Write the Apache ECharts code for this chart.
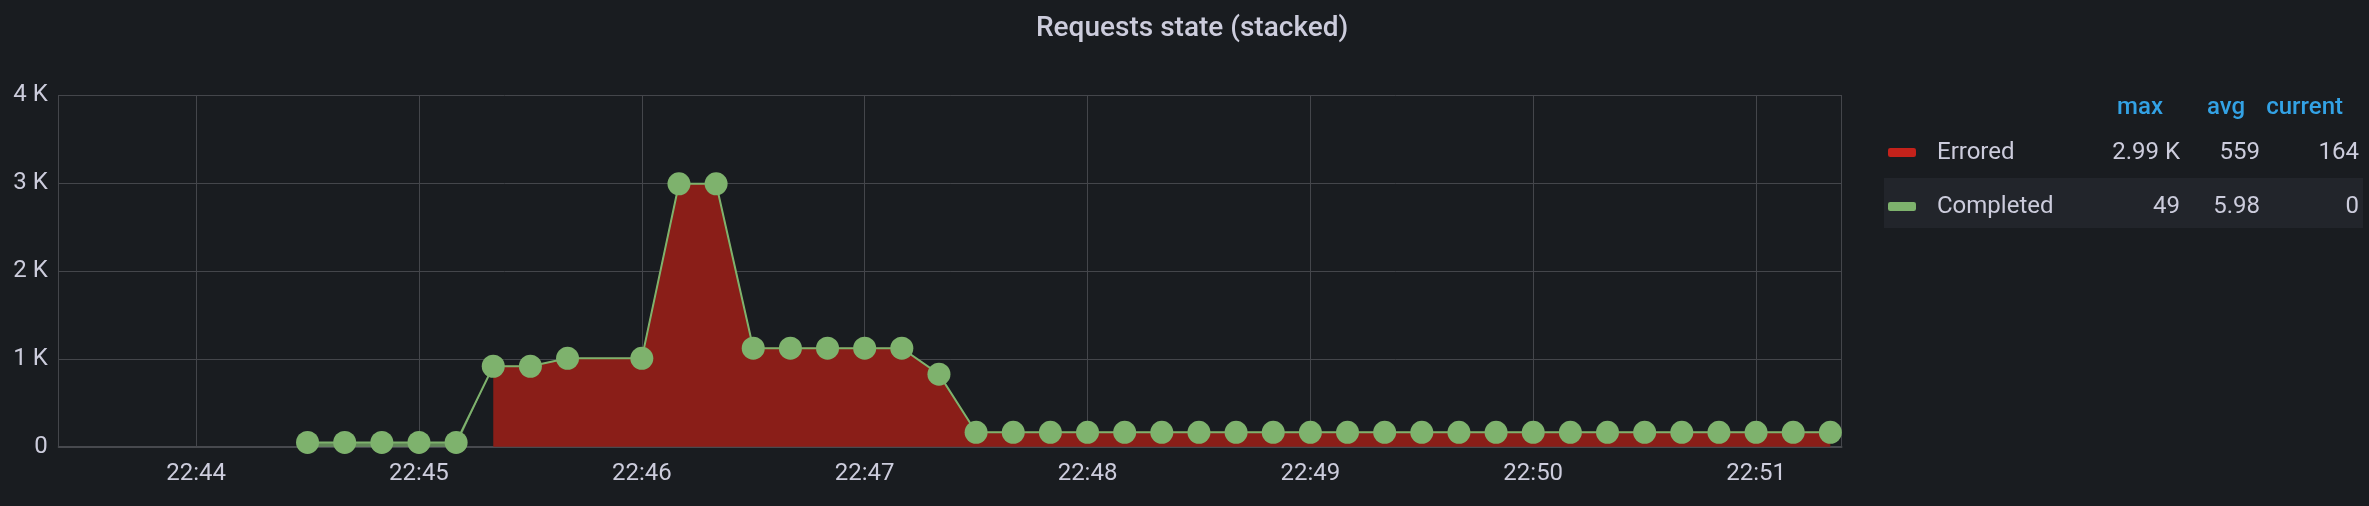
<!DOCTYPE html>
<html>
<head>
<meta charset="utf-8">
<script src="https://cdn.jsdelivr.net/npm/echarts@6/dist/echarts.min.js"></script>
<style>
  html, body { margin: 0; padding: 0; background: #191c20; }
  #chart { width: 2369px; height: 506px; }
</style>
</head>
<body>
<div id="chart"></div>
<script>
// ---- data (no sample at 22:45:50) ----
const times = [
  '22:44:30','22:44:40','22:44:50','22:45:00','22:45:10','22:45:20','22:45:30','22:45:40',
  '22:46:00','22:46:10','22:46:20','22:46:30','22:46:40','22:46:50','22:47:00',
  '22:47:10','22:47:20','22:47:30','22:47:40','22:47:50','22:48:00','22:48:10','22:48:20',
  '22:48:30','22:48:40','22:48:50','22:49:00','22:49:10','22:49:20','22:49:30','22:49:40',
  '22:49:50','22:50:00','22:50:10','22:50:20','22:50:30','22:50:40','22:50:50','22:51:00',
  '22:51:10','22:51:20'
];
const errored = [
  null, null, null, null, null, 915, 915, 1005,
  1005, 2990, 2990, 1120, 1120, 1120, 1120,
  1120, 825, 164, 164, 164, 164, 164, 164,
  164, 164, 164, 164, 164, 164, 164, 164,
  164, 164, 164, 164, 164, 164, 164, 164,
  164, 164
];
const completed = [
  49, 49, 49, 49, 49, 0, 0, 0,
  0, 0, 0, 0, 0, 0, 0,
  0, 0, 0, 0, 0, 0, 0, 0,
  0, 0, 0, 0, 0, 0, 0, 0,
  0, 0, 0, 0, 0, 0, 0, 0,
  0, 0
];
const seriesNames = ['Errored', 'Completed'];
const statHeaders = ['max', 'avg', 'current'];
const statMax = ['2.99 K', '49'];
const statAvg = ['559', '5.98'];
const statCurrent = ['164', '0'];
const yTicks = [0, 1000, 2000, 3000, 4000];
const timeMin = '22:43:23';
const timeMax = '22:51:23';

// ---- build ----
function toTs(hms) {
  const p = hms.split(':').map(Number);
  return new Date(2021, 0, 1, p[0], p[1], p[2]).getTime();
}
const erroredData = times.map((t, i) => [toTs(t), errored[i]]);
const completedData = times.map((t, i) => [toTs(t), completed[i]]);

const TEXT = '#ccccdc';
const GRID = '#44464b';
const FONT = 'Roboto';

const chart = echarts.init(document.getElementById('chart'), null, { renderer: 'canvas' });
const statByName = {};
seriesNames.forEach((n, i) => { statByName[n] = [statMax[i], statAvg[i], statCurrent[i]]; });

chart.setOption({
  backgroundColor: '#191c20',
  animation: false,
  textStyle: { fontFamily: FONT },
  title: {
    text: 'Requests state (stacked)',
    left: 1036,
    top: 15,
    padding: 0,
    textStyle: { color: TEXT, fontSize: 28, fontWeight: 500, fontFamily: FONT }
  },
  grid: { left: 58.7, right: 2369 - 1841.5, top: 95, bottom: 506 - 446.7, containLabel: false },
  xAxis: {
    type: 'time',
    min: toTs(timeMin),
    max: toTs(timeMax),
    minInterval: 60000,
    maxInterval: 60000,
    axisLine: { show: true, lineStyle: { color: '#47494e', width: 2 } },
    axisTick: { show: false },
    axisLabel: {
      color: TEXT, fontSize: 24, fontFamily: FONT, margin: 15,
      formatter: '{HH}:{mm}', showMinLabel: false, showMaxLabel: false
    },
    splitLine: { show: true, lineStyle: { color: GRID, width: 1 } }
  },
  yAxis: {
    type: 'value',
    min: yTicks[0],
    max: yTicks[yTicks.length - 1],
    interval: yTicks[1] - yTicks[0],
    axisLine: { show: false },
    axisTick: { show: false },
    axisLabel: {
      color: TEXT, fontSize: 24, fontFamily: FONT, margin: 11,
      formatter: v => v === 0 ? '0' : (v / 1000) + ' K'
    },
    splitLine: { show: true, lineStyle: { color: GRID, width: 1 } }
  },
  legend: {
    orient: 'vertical',
    left: 1888,
    top: 140.5,
    padding: 0,
    itemGap: 30,
    itemWidth: 28,
    itemHeight: 9,
    icon: 'roundRect',
    selectedMode: false,
    data: [
      { name: 'Errored', itemStyle: { color: '#c4221b' } },
      { name: 'Completed', itemStyle: { color: '#7eb26d' } }
    ],
    formatter: name => {
      const s = statByName[name];
      return '{g| }{n|' + name + '}{m|' + s[0] + '}{a|' + s[1] + '}{c|' + s[2] + '}';
    },
    textStyle: {
      color: TEXT, fontSize: 24, fontFamily: FONT,
      rich: {
        g: { width: 16, fontSize: 24 },
        n: { width: 150, fontSize: 24, color: TEXT, fontFamily: FONT },
        m: { width: 93, align: 'right', fontSize: 24, color: TEXT, fontFamily: FONT },
        a: { width: 80, align: 'right', fontSize: 24, color: TEXT, fontFamily: FONT },
        c: { width: 99, align: 'right', fontSize: 24, color: TEXT, fontFamily: FONT }
      }
    }
  },
  graphic: [
    { type: 'rect', z: 0, shape: { x: 1884, y: 178, width: 479, height: 50 }, style: { fill: '#22252b' }, silent: true },
    { type: 'text', z: 10, style: { text: statHeaders[0], x: 2163, y: 107.5, align: 'right', verticalAlign: 'middle', fontSize: 24, fontWeight: 500, fontFamily: FONT, fill: '#33a2e5' } },
    { type: 'text', z: 10, style: { text: statHeaders[1], x: 2245, y: 107.5, align: 'right', verticalAlign: 'middle', fontSize: 24, fontWeight: 500, fontFamily: FONT, fill: '#33a2e5' } },
    { type: 'text', z: 10, style: { text: statHeaders[2], x: 2343, y: 107.5, align: 'right', verticalAlign: 'middle', fontSize: 24, fontWeight: 500, fontFamily: FONT, fill: '#33a2e5' } }
  ],
  series: [
    {
      name: 'Errored',
      type: 'line',
      stack: 'total',
      data: erroredData,
      connectNulls: true,
      showSymbol: false,
      symbol: 'none',
      lineStyle: { color: '#bf1b00', width: 1 },
      itemStyle: { color: '#c4221b' },
      areaStyle: { color: '#8a1e18', opacity: 1 },
      z: 2
    },
    {
      name: 'Completed',
      type: 'line',
      stack: 'total',
      data: completedData,
      connectNulls: true,
      showSymbol: true,
      symbol: 'circle',
      symbolSize: 23,
      lineStyle: { color: '#7eb26d', width: 2 },
      itemStyle: { color: '#7eb26d' },
      areaStyle: { color: '#7eb26d', opacity: 0.7 },
      z: 3
    }
  ]
});
</script>
</body>
</html>
